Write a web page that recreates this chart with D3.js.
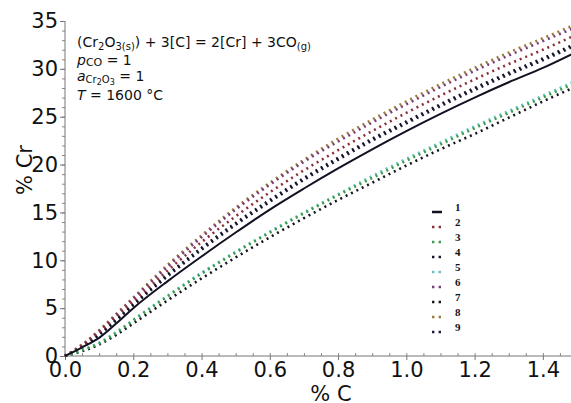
<!DOCTYPE html>
<html>
<head>
<meta charset="utf-8">
<script src="https://cdn.jsdelivr.net/npm/d3@7"></script>
<style>
body { margin: 0; background: #fff; }
svg { display: block; }
.tick text { font-family: "DejaVu Sans", Verdana, sans-serif; }
</style>
</head>
<body>
<div class="chart"></div>
<script>
var svgWidth = 571;
var svgHeight = 403;

// % C sample points
var carbon = [0, 0.05, 0.1, 0.15, 0.2, 0.3, 0.4, 0.5, 0.6, 0.7, 0.8, 0.9, 1.0, 1.1, 1.2, 1.3, 1.4, 1.5];

// % Cr for each curve
var curve1 = [0, 0.9, 1.9, 3.4, 5.0, 7.8, 10.4, 12.9, 15.3, 17.5, 19.6, 21.6, 23.5, 25.3, 27.0, 28.6, 30.1, 31.8];
var curve2 = [0, 1.1, 2.5, 4.1, 5.7, 8.9, 11.9, 14.6, 17.1, 19.4, 21.5, 23.5, 25.4, 27.2, 28.9, 30.5, 32.0, 33.6];
var curve3 = [0, 0.6, 1.3, 2.4, 3.7, 6.2, 8.6, 10.8, 12.9, 14.9, 16.8, 18.6, 20.4, 22.1, 23.8, 25.4, 27.0, 28.6];
var curve4 = [0, 1.0, 2.3, 3.8, 5.4, 8.5, 11.3, 13.9, 16.3, 18.6, 20.7, 22.7, 24.5, 26.3, 28.0, 29.6, 31.1, 32.7];
var curve5 = [0, 0.6, 1.4, 2.5, 3.8, 6.3, 8.7, 10.9, 13.0, 15.0, 16.9, 18.8, 20.6, 22.3, 24.0, 25.6, 27.2, 28.8];
var curve6 = [0, 1.1, 2.6, 4.3, 6.0, 9.3, 12.4, 15.3, 17.9, 20.3, 22.4, 24.4, 26.3, 28.1, 29.8, 31.4, 32.9, 34.4];
var curve7 = [0, 0.5, 1.2, 2.2, 3.4, 5.8, 8.1, 10.3, 12.4, 14.4, 16.3, 18.1, 19.9, 21.6, 23.2, 24.9, 26.6, 28.2];
var curve8 = [0, 1.2, 2.7, 4.4, 6.1, 9.5, 12.6, 15.5, 18.1, 20.5, 22.7, 24.7, 26.6, 28.4, 30.1, 31.7, 33.2, 34.7];
var curve9 = [0, 0.9, 2.2, 3.7, 5.3, 8.3, 11.1, 13.7, 16.1, 18.4, 20.5, 22.5, 24.3, 26.1, 27.8, 29.4, 30.9, 32.5];

var legendNames = ["1", "2", "3", "4", "5", "6", "7", "8", "9"];
var xTicks = [0, 0.2, 0.4, 0.6, 0.8, 1.0, 1.2, 1.4];
var yTicks = [0, 5, 10, 15, 20, 25, 30, 35];

var series = [
    { name: "1", values: curve1, color: "#111122", dash: null },
    { name: "2", values: curve2, color: "#8a2f3a", dash: "2,4" },
    { name: "3", values: curve3, color: "#3d9a4a", dash: "2,4" },
    { name: "4", values: curve4, color: "#15152a", dash: "2,4" },
    { name: "5", values: curve5, color: "#5fc4c0", dash: "2,4" },
    { name: "6", values: curve6, color: "#7a3d78", dash: "2,4" },
    { name: "7", values: curve7, color: "#151520", dash: "2,4" },
    { name: "8", values: curve8, color: "#9a7a3a", dash: "2,4" },
    { name: "9", values: curve9, color: "#1a1a3a", dash: "2,4" }
];

var svg = d3.select(".chart")
    .append("svg")
    .attr("width", svgWidth)
    .attr("height", svgHeight);

var xScale = d3.scaleLinear().domain([0, 1.5]).range([65, 577]);
var yScale = d3.scaleLinear().domain([0, 35]).range([356, 21]);

// minor ticks
var xMinor = d3.range(0, 1.51, 0.05);
var yMinor = d3.range(0, 35.1, 1);

svg.append("g")
    .attr("transform", "translate(0,356)")
    .call(d3.axisBottom(xScale).tickValues(xMinor).tickSize(-3).tickFormat(""))
    .call(g => g.select(".domain").remove())
    .selectAll("line").attr("stroke", "#888");

svg.append("g")
    .attr("transform", "translate(65,0)")
    .call(d3.axisLeft(yScale).tickValues(yMinor).tickSize(3).tickFormat(""))
    .call(g => g.select(".domain").remove())
    .selectAll("line").attr("stroke", "#888");

// main axes
var xAxis = svg.append("g")
    .attr("transform", "translate(0,356)")
    .call(d3.axisBottom(xScale).tickValues(xTicks).tickSize(4).tickPadding(2).tickFormat(d3.format(".1f")));
xAxis.select(".domain").attr("d", "M65,0H571").attr("stroke", "#777");
xAxis.selectAll("line").attr("stroke", "#777");
xAxis.selectAll("text").attr("font-size", 21).attr("fill", "#111");

var yAxis = svg.append("g")
    .attr("transform", "translate(65,0)")
    .call(d3.axisLeft(yScale).tickValues(yTicks).tickSize(5).tickPadding(2));
yAxis.select(".domain").attr("d", "M0,21V356").attr("stroke", "#777");
yAxis.selectAll("line").attr("stroke", "#777");
yAxis.selectAll("text").attr("font-size", 21).attr("fill", "#111");

// axis titles
svg.append("text")
    .attr("x", 331)
    .attr("y", 401)
    .attr("text-anchor", "middle")
    .attr("font-family", "DejaVu Sans, sans-serif")
    .attr("font-size", 21)
    .attr("fill", "#111")
    .text("% C");

svg.append("text")
    .attr("transform", "translate(32,170) rotate(-90)")
    .attr("text-anchor", "middle")
    .attr("font-family", "DejaVu Sans, sans-serif")
    .attr("font-size", 21)
    .attr("fill", "#111")
    .text("% Cr");

// curves
var line = d3.line()
    .x((d, i) => xScale(carbon[i]))
    .y(d => yScale(d))
    .curve(d3.curveMonotoneX);

var plot = svg.append("g");
series.slice().reverse().forEach(function (s) {
    plot.append("path")
        .attr("d", line(s.values))
        .attr("fill", "none")
        .attr("stroke", s.color)
        .attr("stroke-width", s.dash ? 2.6 : 2)
        .attr("stroke-dasharray", s.dash);
});

// annotation
var note = svg.append("g")
    .attr("font-family", "DejaVu Sans, sans-serif")
    .attr("font-size", 14)
    .attr("fill", "#111");

var t1 = note.append("text").attr("x", 77).attr("y", 47);
t1.append("tspan").text("(Cr");
t1.append("tspan").attr("font-size", 10).attr("dy", 3).text("2");
t1.append("tspan").attr("dy", -3).text("O");
t1.append("tspan").attr("font-size", 10).attr("dy", 3).text("3(s)");
t1.append("tspan").attr("dy", -3).text(") + 3[C] = 2[Cr] + 3CO");
t1.append("tspan").attr("font-size", 10).attr("dy", 3).text("(g)");

var t2 = note.append("text").attr("x", 77).attr("y", 65);
t2.append("tspan").attr("font-style", "italic").text("p");
t2.append("tspan").attr("font-size", 11).attr("dy", 1).text("CO");
t2.append("tspan").attr("dy", -1).text(" = 1");

var t3 = note.append("text").attr("x", 77).attr("y", 81);
t3.append("tspan").attr("font-style", "italic").text("a");
t3.append("tspan").attr("font-size", 10).attr("dy", 2).text("Cr");
t3.append("tspan").attr("font-size", 8).attr("dy", 2).text("2");
t3.append("tspan").attr("font-size", 10).attr("dy", -2).text("O");
t3.append("tspan").attr("font-size", 8).attr("dy", 2).text("3");
t3.append("tspan").attr("dy", -4).text(" = 1");

var t4 = note.append("text").attr("x", 77).attr("y", 100);
t4.append("tspan").attr("font-style", "italic").text("T");
t4.append("tspan").text(" = 1600 °C");

// legend
var legend = svg.append("g").attr("transform", "translate(432,208)");
series.forEach(function (s, i) {
    var row = legend.append("g").attr("transform", `translate(0,${i * 15})`);
    row.append("line")
        .attr("x1", 0).attr("x2", s.dash ? 9 : 10)
        .attr("y1", 4).attr("y2", 4)
        .attr("stroke", s.color)
        .attr("stroke-width", s.dash ? 2.4 : 2.5)
        .attr("stroke-dasharray", s.dash ? "2.4,4.2" : null);
    row.append("text")
        .attr("x", 23)
        .attr("y", 3)
        .attr("font-family", "Liberation Serif, serif")
        .attr("font-weight", "bold")
        .attr("font-size", 11)
        .attr("fill", "#111")
        .text(legendNames[i]);
});
</script>
</body>
</html>
